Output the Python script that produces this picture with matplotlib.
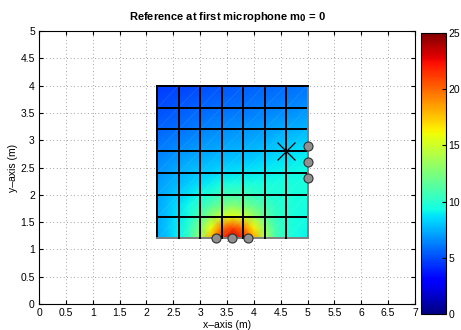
import numpy as np
import matplotlib
matplotlib.use('Agg')
import matplotlib.pyplot as plt

plt.rcParams['font.family'] = ['Liberation Sans', 'DejaVu Sans']

# grid nodes (m)
grid_x = [2.2, 2.4, 2.6, 2.8, 3.0, 3.2, 3.4, 3.6, 3.8, 4.0, 4.2, 4.4, 4.6, 4.8, 5.0]
grid_y = [1.2, 1.4, 1.6, 1.8, 2.0, 2.2, 2.4, 2.6, 2.8, 3.0, 3.2, 3.4, 3.6, 3.8, 4.0]

# field level at the nodes, rows from y=1.2 up to y=4.0
level = [
    [7.3, 8.0, 9.0, 10.5, 13.5, 18.0, 22.0, 23.5, 22.0, 18.5, 14.0, 11.0, 9.8, 9.3, 9.0],
    [7.4, 8.1, 9.0, 10.2, 12.5, 16.0, 19.5, 21.0, 19.5, 16.5, 13.0, 10.8, 9.8, 9.4, 9.2],
    [7.4, 8.0, 8.8, 9.7, 11.2, 13.2, 15.0, 15.8, 15.0, 13.5, 11.8, 10.4, 9.7, 9.5, 9.3],
    [7.3, 7.9, 8.6, 9.3, 10.2, 11.3, 12.3, 12.8, 12.4, 11.7, 10.8, 10.1, 9.7, 9.5, 9.4],
    [7.2, 7.7, 8.2, 8.8, 9.4, 10.0, 10.6, 10.9, 10.8, 10.4, 10.0, 9.7, 9.6, 9.5, 9.5],
    [7.0, 7.4, 7.8, 8.2, 8.6, 9.0, 9.4, 9.6, 9.6, 9.5, 9.5, 9.5, 9.5, 9.5, 9.5],
    [6.8, 7.1, 7.5, 7.8, 8.1, 8.3, 8.5, 8.7, 8.8, 8.9, 9.0, 9.1, 9.2, 9.3, 9.4],
    [6.5, 6.8, 7.1, 7.4, 7.6, 7.8, 8.0, 8.1, 8.2, 8.3, 8.5, 8.7, 8.8, 9.0, 9.1],
    [6.2, 6.4, 6.7, 6.9, 7.1, 7.3, 7.5, 7.6, 7.7, 7.8, 8.0, 8.2, 8.4, 8.6, 8.7],
    [5.9, 6.1, 6.3, 6.5, 6.7, 6.9, 7.0, 7.1, 7.2, 7.3, 7.5, 7.7, 7.9, 8.1, 8.2],
    [5.6, 5.7, 5.9, 6.1, 6.3, 6.5, 6.6, 6.7, 6.8, 6.9, 7.0, 7.2, 7.4, 7.5, 7.7],
    [5.3, 5.4, 5.6, 5.8, 5.9, 6.1, 6.2, 6.3, 6.4, 6.5, 6.6, 6.8, 6.9, 7.0, 7.2],
    [5.0, 5.1, 5.3, 5.4, 5.6, 5.7, 5.8, 5.9, 6.0, 6.1, 6.2, 6.3, 6.5, 6.6, 6.7],
    [4.8, 4.9, 5.0, 5.1, 5.3, 5.4, 5.5, 5.6, 5.7, 5.8, 5.9, 6.0, 6.1, 6.2, 6.3],
    [4.5, 4.6, 4.7, 4.8, 5.0, 5.1, 5.2, 5.3, 5.4, 5.5, 5.6, 5.7, 5.8, 5.9, 6.0],
]

# microphone positions and reference source
mic_x = [3.3, 3.6, 3.9, 5.0, 5.0, 5.0]
mic_y = [1.2, 1.2, 1.2, 2.3, 2.6, 2.9]
src_x = [4.6]
src_y = [2.8]

fig = plt.figure(figsize=(4.61, 3.30), dpi=100)
ax = fig.add_axes([0.0846, 0.0788, 0.8156, 0.827])
cax = fig.add_axes([0.913, 0.0485, 0.054, 0.852])

mesh = ax.pcolormesh(grid_x, grid_y, np.array(level), shading='gouraud',
                     cmap='jet', vmin=0, vmax=25, zorder=1)

# cell borders every 0.4 m
cells = np.arange(2.2, 5.01, 0.4)
for i, c in enumerate(cells):
    last = i == len(cells) - 1
    ax.plot([c, c], [1.2, 4.0], color='#808080' if last else 'k', lw=1.4, zorder=3)
    ax.plot([2.2, 5.0], [c - 1.0, c - 1.0], color='#808080' if i == 0 else 'k',
            lw=1.4, zorder=3)
# faint diagonals inside each cell
for cx in cells[:-1]:
    for cy in cells[:-1] - 1.0:
        ax.plot([cx, cx + 0.4], [cy, cy + 0.4], color='white', lw=0.4,
                ls=(0, (1, 1.5)), alpha=0.35, zorder=2)

ax.plot(src_x, src_y, 'x', color='k', markersize=13, mew=0.9, zorder=5)
ax.plot(mic_x, mic_y, 'o', markerfacecolor='#909090', markeredgecolor='#303030',
        markersize=6.5, mew=0.8, zorder=6, clip_on=False)

ax.set_xlim(0, 7)
ax.set_ylim(0, 5)
ax.set_xticks(np.arange(0, 7.01, 0.5))
ax.set_yticks(np.arange(0, 5.01, 0.5))
ax.set_xticklabels(['0', '0.5', '1', '1.5', '2', '2.5', '3', '3.5', '4', '4.5',
                    '5', '5.5', '6', '6.5', '7'])
ax.set_yticklabels(['0', '0.5', '1', '1.5', '2', '2.5', '3', '3.5', '4', '4.5', '5'])
ax.grid(True, color='#505050', ls=(0, (1, 4)), lw=0.5)
ax.set_axisbelow(True)
ax.tick_params(direction='in', length=3, labelsize=7.5, top=True, right=True,
               labeltop=False, labelright=False, pad=3)
for s in ax.spines.values():
    s.set_linewidth(0.8)
ax.set_xlabel('x\u2013axis (m)', fontsize=7.5, labelpad=1)
ax.set_ylabel('y\u2013axis (m)', fontsize=7.5, labelpad=2)
ax.set_title('Reference at first microphone m$_{\\mathbf{0}}$ = 0', fontsize=8,
             fontweight='bold', pad=8)

cb = fig.colorbar(mesh, cax=cax, ticks=[0, 5, 10, 15, 20, 25])
cb.ax.tick_params(direction='in', length=3, labelsize=7.5, pad=2)
cb.outline.set_linewidth(0.8)

fig.savefig('out.png', dpi=100)
